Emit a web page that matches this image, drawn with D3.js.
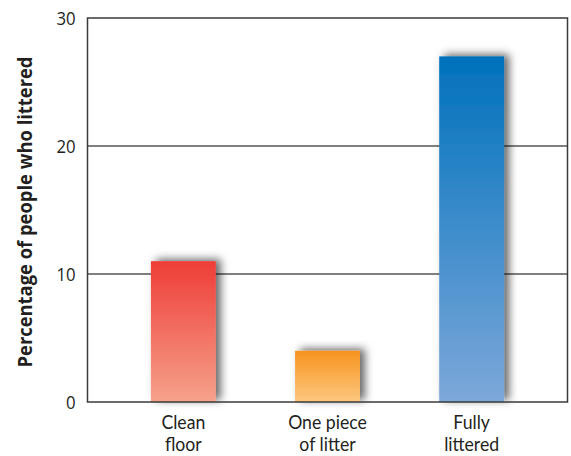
<!DOCTYPE html>
<html><head><meta charset="utf-8">
<script src="https://cdn.jsdelivr.net/npm/d3@7"></script>
<style>body{margin:0;background:#fff}svg{display:block}</style>
</head><body>
<svg id="c" width="571" height="456"></svg>
<script>
const categories = [["Clean","floor"],["One piece","of litter"],["Fully","littered"]];
const values = [11, 4, 27];
const yTicks = [0, 10, 20, 30];
const topColors = ["#EE3D37", "#F7931E", "#0071BC"];
const bottomColors = ["#F6A28C", "#FDC880", "#7DA8DA"];

const svg = d3.select("#c");
const L = 87.5, R = 567.5, T = 18, B = 402;
const FONT = "Open Sans, sans-serif";
const SX = 0.88; // horizontal condensing to mimic a condensed face
const y = d3.scaleLinear().domain([0, 30]).range([B, T]);
const x = d3.scaleBand().domain(d3.range(categories.length)).range([L, R]).paddingInner(0.55).paddingOuter(0.44);

const defs = svg.append("defs");
categories.forEach((c, i) => {
  const g = defs.append("linearGradient").attr("id", "g" + i).attr("x1", 0).attr("y1", 0).attr("x2", 0).attr("y2", 1);
  g.append("stop").attr("offset", "0%").attr("stop-color", topColors[i]);
  g.append("stop").attr("offset", "100%").attr("stop-color", bottomColors[i]);
});
const f = defs.append("filter").attr("id", "sh").attr("x", "-50%").attr("y", "-20%").attr("width", "200%").attr("height", "140%");
f.append("feDropShadow").attr("dx", 5).attr("dy", -2).attr("stdDeviation", 4.5).attr("flood-color", "#000").attr("flood-opacity", 0.6);

const ink = "#231F20";
// gridlines
svg.append("g").selectAll("line").data(yTicks.filter(t => t > 0 && t < 30)).join("line")
  .attr("x1", L).attr("x2", R).attr("y1", d => y(d)).attr("y2", d => y(d))
  .attr("stroke", "#555").attr("stroke-width", 1.5);

// bars
svg.append("g").selectAll("rect").data(values).join("rect")
  .attr("x", (d, i) => x(i)).attr("width", x.bandwidth())
  .attr("y", d => y(d)).attr("height", d => B - y(d))
  .attr("fill", (d, i) => `url(#g${i})`).attr("filter", "url(#sh)");

// frame
svg.append("rect").attr("x", L).attr("y", T).attr("width", R - L).attr("height", B - T)
  .attr("fill", "none").attr("stroke", "#3a3a3a").attr("stroke-width", 1.5);

// y tick labels
svg.append("g").selectAll("text").data(yTicks).join("text")
  .attr("transform", d => `translate(${L - 12},${y(d)}) scale(${SX},1)`)
  .attr("text-anchor", "end").attr("dy", "0.36em")
  .attr("font-family", FONT).attr("font-size", 19).attr("fill", ink).text(d => d);

// category labels (one text element per category, two lines)
const xl = svg.append("g").selectAll("text").data(categories).join("text")
  .attr("transform", (d, i) => `translate(${x(i) + x.bandwidth() / 2},428.5) scale(0.93,1)`)
  .attr("text-anchor", "middle").attr("font-family", "Lato, sans-serif").attr("font-size", 19).attr("fill", ink);
xl.selectAll("tspan").data(d => d).join("tspan")
  .attr("x", 0).attr("y", (d, i) => i * 23).text(d => d);

// y title
svg.append("text").attr("transform", `translate(32,${(T + B) / 2 + 2}) rotate(-90)`)
  .attr("text-anchor", "middle").attr("font-family", FONT).attr("font-weight", "bold")
  .attr("font-size", 20).attr("textLength", 311).attr("lengthAdjust", "spacingAndGlyphs")
  .attr("fill", ink).text("Percentage of people who littered");
</script>
</body></html>
